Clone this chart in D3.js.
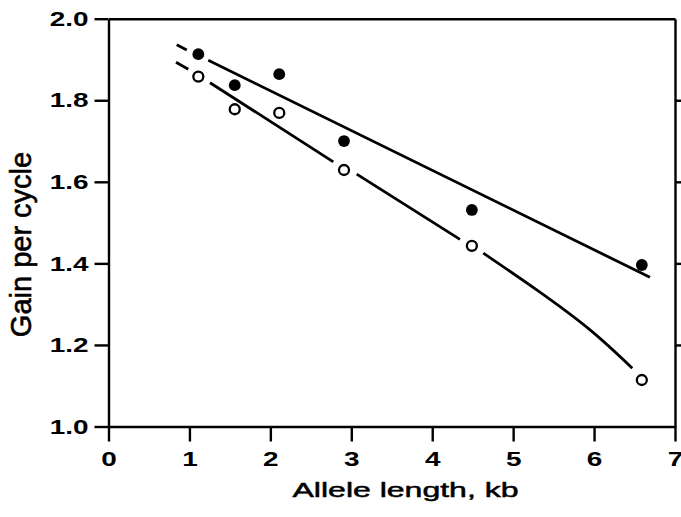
<!DOCTYPE html>
<html>
<head>
<meta charset="utf-8">
<script src="https://cdn.jsdelivr.net/npm/d3@7"></script>
<style>
  body { margin: 0; background: #fff; }
  svg { display: block; }
</style>
</head>
<body>
<div id="chart"></div>
<script>
// data
const alleleLength = [1.11, 1.56, 2.11, 2.91, 4.49, 6.59];
const gainFilled = [1.913, 1.837, 1.864, 1.700, 1.531, 1.396];
const gainOpen = [1.858, 1.778, 1.769, 1.629, 1.443, 1.114];

// fitted lines as drawn (null = break in the line)
const filledFit = [[0.843, 1.936], [0.967, 1.923], null, [1.233, 1.898], [6.69, 1.366]];
const openFit = [
  [0.834, 1.893], [0.986, 1.876], null,
  [1.254, 1.843], [2.778, 1.649], null,
  [3.067, 1.619], [4.343, 1.459], null,
  [4.631, 1.425], [5.291, 1.335], [5.95, 1.237], [6.472, 1.143]
];

const xTicks = [0, 1, 2, 3, 4, 5, 6, 7];
const yTicks = [1.0, 1.2, 1.4, 1.6, 1.8, 2.0];
const rightTicks = [1.2, 1.4, 1.6, 1.8];

const width = 681, height = 517;
const margin = {top: 18.7, right: 6, bottom: 90.5, left: 108.5};
const stretch = 1.33;
const font = "'Liberation Sans', Arial, Helvetica, sans-serif";

const svg = d3.select("#chart").append("svg")
    .attr("width", width)
    .attr("height", height);

const x = d3.scaleLinear().domain([0, 7]).range([margin.left, width - margin.right]);
const y = d3.scaleLinear().domain([1, 2]).range([height - margin.bottom, margin.top]);

function styleAxis(g) {
  g.attr("font-family", font).attr("font-size", 21).attr("font-weight", "bold");
  g.selectAll("path, line").attr("stroke", "#000").attr("stroke-width", 2.4);
  g.selectAll("text").attr("fill", "#000")
    .each(function() {
      const len = this.getComputedTextLength();
      d3.select(this).attr("textLength", len * stretch).attr("lengthAdjust", "spacingAndGlyphs");
    });
}

svg.append("g")
    .attr("transform", `translate(0,${y(1)})`)
    .call(d3.axisBottom(x).tickValues(xTicks).tickSize(15).tickSizeOuter(0).tickPadding(10).tickFormat(d3.format("d")))
    .call(styleAxis);

svg.append("g")
    .attr("transform", `translate(${x(0)},0)`)
    .call(d3.axisLeft(y).tickValues(yTicks).tickSize(14).tickSizeOuter(0).tickPadding(6).tickFormat(d3.format(".1f")))
    .call(styleAxis);

svg.append("g")
    .attr("transform", `translate(${x(7)},0)`)
    .call(d3.axisRight(y).tickValues(rightTicks).tickSize(8).tickSizeOuter(0).tickFormat(""))
    .call(styleAxis);

svg.append("g")
    .attr("transform", `translate(0,${y(2)})`)
    .call(d3.axisTop(x).tickValues([]).tickSizeOuter(0))
    .call(styleAxis);

// fit lines
const line = d3.line()
    .defined(d => d)
    .x(d => x(d[0]))
    .y(d => y(d[1]));

svg.append("path")
    .attr("d", line(filledFit))
    .attr("fill", "none")
    .attr("stroke", "#000")
    .attr("stroke-width", 2.8);

svg.append("path")
    .attr("d", line.curve(d3.curveNatural)(openFit))
    .attr("fill", "none")
    .attr("stroke", "#000")
    .attr("stroke-width", 2.8);

// points
svg.selectAll(".filled")
    .data(alleleLength)
    .enter().append("circle")
    .attr("class", "filled")
    .attr("cx", d => x(d))
    .attr("cy", (d, i) => y(gainFilled[i]))
    .attr("r", 5.9)
    .attr("fill", "#000");

svg.selectAll(".open")
    .data(alleleLength)
    .enter().append("circle")
    .attr("class", "open")
    .attr("cx", d => x(d))
    .attr("cy", (d, i) => y(gainOpen[i]))
    .attr("r", 5)
    .attr("fill", "#fff")
    .attr("stroke", "#000")
    .attr("stroke-width", 2.3);

// axis titles
svg.append("text")
    .attr("x", 405.5)
    .attr("y", 497)
    .attr("text-anchor", "middle")
    .attr("font-family", font)
    .attr("font-size", 21)
    .attr("stroke", "#000")
    .attr("stroke-width", 0.5)
    .attr("textLength", 226)
    .attr("lengthAdjust", "spacingAndGlyphs")
    .text("Allele length, kb");

svg.append("text")
    .attr("transform", "translate(31,244.5) rotate(-90)")
    .attr("text-anchor", "middle")
    .attr("font-family", font)
    .attr("font-size", 29)
    .attr("stroke", "#000")
    .attr("stroke-width", 0.6)
    .text("Gain per cycle");
</script>
</body>
</html>
